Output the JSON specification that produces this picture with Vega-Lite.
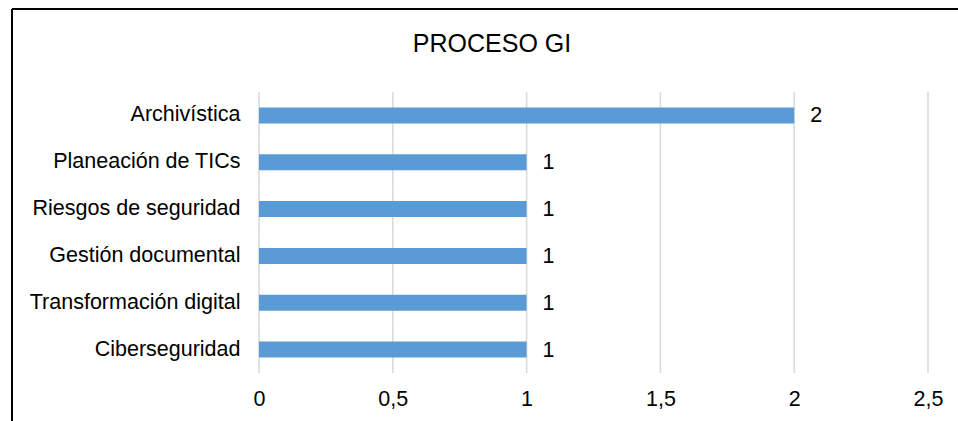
{
  "$schema": "https://vega.github.io/schema/vega-lite/v6.json",
  "width": 946,
  "height": 412,
  "autosize": {"type": "none"},
  "padding": {"left": 12, "top": 9, "right": 0, "bottom": 0},
  "background": "white",
  "title": {"text": "PROCESO GI", "fontSize": 25, "fontWeight": "normal", "font": "Liberation Sans", "color": "#000000", "anchor": "middle", "dx": 7, "offset": -48},
  "datasets": {
    "counts": [
      {"cat": "Archivística", "value": 2},
      {"cat": "Planeación de TICs", "value": 1},
      {"cat": "Riesgos de seguridad", "value": 1},
      {"cat": "Gestión documental", "value": 1},
      {"cat": "Transformación digital", "value": 1},
      {"cat": "Ciberseguridad", "value": 1}
    ]
  },
  "layer": [
    {
      "data": {"values": [{"tick": [0, 0.5, 1, 1.5, 2, 2.5], "cat": ["Archivística", "Planeación de TICs", "Riesgos de seguridad", "Gestión documental", "Transformación digital", "Ciberseguridad"]}]},
      "transform": [{"flatten": ["tick"]}, {"flatten": ["cat"]}],
      "mark": {"type": "rect", "fillOpacity": 0, "stroke": "#d9d9d9", "strokeWidth": 1.5},
      "encoding": {
        "x": {"field": "tick", "type": "quantitative",
          "scale": {"domain": [-0.92302, 2.6121], "nice": false, "zero": false},
          "axis": {"values": [0, 0.5, 1, 1.5, 2, 2.5], "orient": "bottom", "offset": -49, "domain": false, "ticks": false, "grid": false, "labelPadding": 16, "labelFontSize": 21.5, "labelFont": "Liberation Sans", "labelColor": "#000000", "labelExpr": "replace(format(datum.value, '~g'), '.', ',')", "title": null, "labelFlush": false, "labelOverlap": false}},
        "x2": {"field": "tick"},
        "y": {"field": "cat", "type": "nominal",
          "scale": {"domain": ["Archivística", "Planeación de TICs", "Riesgos de seguridad", "Gestión documental", "Transformación digital", "Ciberseguridad"], "range": [83, 364], "paddingInner": 0, "paddingOuter": 0, "round": false},
          "axis": {"orient": "left", "offset": -247, "domain": false, "ticks": false, "grid": false, "labelPadding": 19, "labelFontSize": 21.5, "labelFont": "Liberation Sans", "labelColor": "#000000", "labelLimit": 400, "title": null}}
      }
    },
    {
      "data": {"name": "counts"},
      "mark": {"type": "bar", "color": "#5b9bd5", "height": {"band": 0.342}},
      "encoding": {
        "x": {"field": "value", "type": "quantitative", "scale": {"domain": [-0.92302, 2.6121], "nice": false, "zero": false}},
        "x2": {"datum": 0},
        "y": {"field": "cat", "type": "nominal"}
      }
    },
    {
      "data": {"name": "counts"},
      "mark": {"type": "text", "align": "left", "dx": 16, "dy": 1, "baseline": "middle", "fontSize": 21.5, "font": "Liberation Sans", "color": "#000000"},
      "encoding": {
        "x": {"field": "value", "type": "quantitative"},
        "y": {"field": "cat", "type": "nominal"},
        "text": {"field": "value", "type": "quantitative"}
      }
    }
  ],
  "config": {
    "view": {"stroke": "#000000", "strokeWidth": 2, "strokeDash": [946, 1358, 412, 0]}
  }
}
